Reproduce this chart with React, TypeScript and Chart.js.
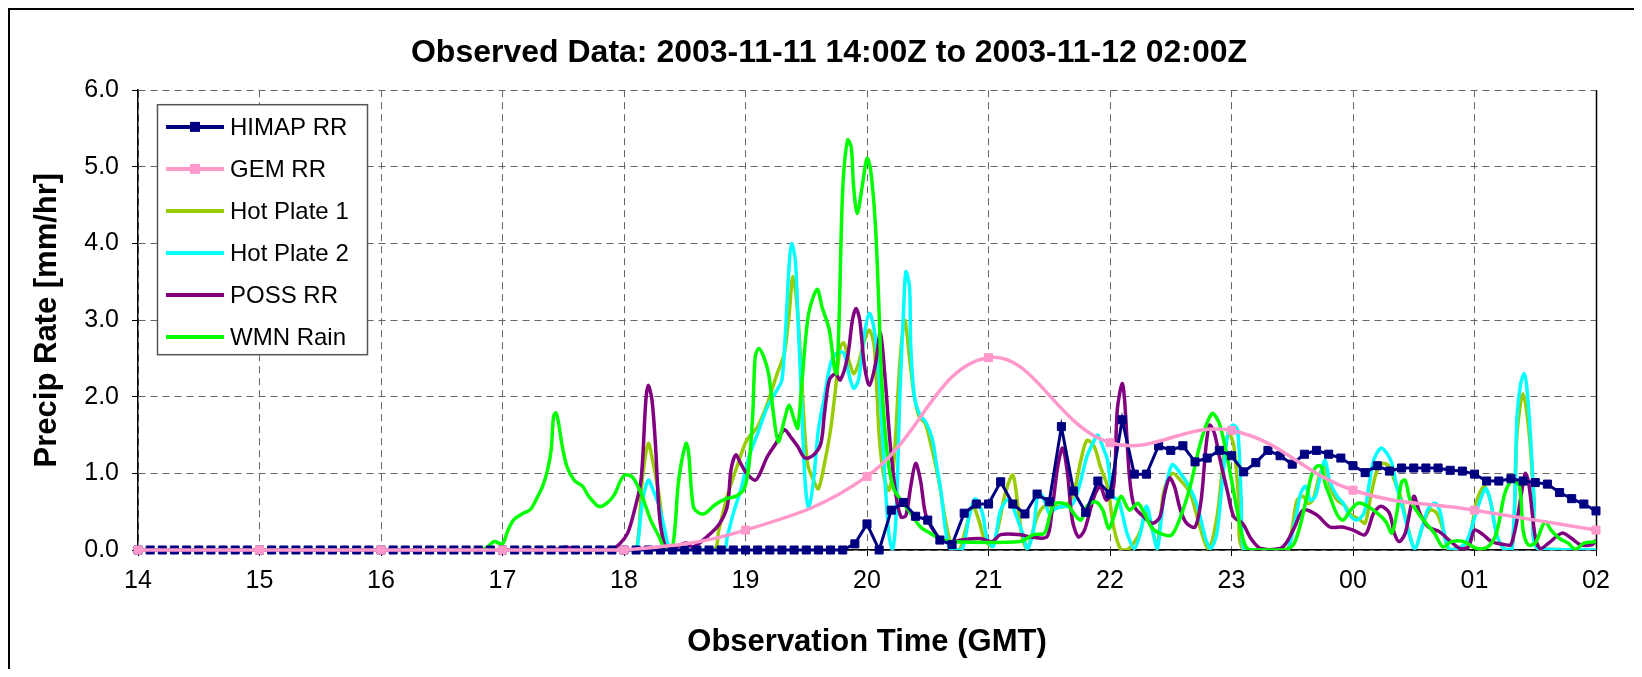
import React, { useEffect, useRef } from "react";
import { Chart, registerables } from "chart.js";

Chart.register(...registerables);

// ---------- data ----------
const chartTitle = "Observed Data: 2003-11-11 14:00Z to 2003-11-12 02:00Z";
const xTitle = "Observation Time (GMT)";
const yTitle = "Precip Rate [mm/hr]";

// hours 14..26 (00 = 24, 01 = 25, 02 = 26)
const hourLabels = ["14", "15", "16", "17", "18", "19", "20", "21", "22", "23", "00", "01", "02"];
const yTickLabels = ["0.0", "1.0", "2.0", "3.0", "4.0", "5.0", "6.0"];

// HIMAP RR: every 6 minutes from 14:00 to 02:00
const himapStartHour = 14;
const himapStepHours = 0.1;
const himapValues = [
  0, 0, 0, 0, 0, 0, 0, 0, 0, 0,
  0, 0, 0, 0, 0, 0, 0, 0, 0, 0,
  0, 0, 0, 0, 0, 0, 0, 0, 0, 0,
  0, 0, 0, 0, 0, 0, 0, 0, 0, 0,
  0, 0, 0, 0, 0, 0, 0, 0, 0, 0,
  0, 0, 0, 0, 0, 0, 0, 0, 0, 0.08,
  0.34, 0.0, 0.52, 0.62, 0.44, 0.39, 0.13, 0.07, 0.48, 0.6,
  0.6, 0.89, 0.6, 0.47, 0.73, 0.63, 1.61, 0.77, 0.49, 0.9,
  0.73, 1.7, 0.99, 0.99, 1.36, 1.3, 1.36, 1.15, 1.2, 1.3,
  1.23, 1.02, 1.14, 1.3, 1.23, 1.12, 1.25, 1.3, 1.25, 1.2,
  1.1, 1.01, 1.1, 1.03, 1.07, 1.07, 1.07, 1.07, 1.04, 1.03,
  0.99, 0.9, 0.9, 0.93, 0.9, 0.88, 0.86, 0.75, 0.67, 0.6,
  0.51,
];

// GEM RR: hourly
const gemHours = [14, 15, 16, 17, 18, 19, 20, 21, 22, 23, 24, 25, 26];
const gemValues = [0, 0, 0, 0, 0, 0.26, 0.96, 2.51, 1.4, 1.56, 0.78, 0.52, 0.26];

// Hot Plate 1
const hp1Times = [
  18.0, 18.1, 18.15, 18.2, 18.24, 18.29, 18.33, 18.35, 18.74, 18.78, 18.85, 18.93, 19.01, 19.1, 19.18,
  19.26, 19.32, 19.36, 19.39, 19.43, 19.47, 19.51, 19.56, 19.6, 19.65, 19.7, 19.74, 19.78, 19.81, 19.85,
  19.89, 19.93, 19.98, 20.02, 20.06, 20.1, 20.14, 20.18, 20.22, 20.27, 20.31, 20.35, 20.39, 20.43, 20.48,
  20.53, 20.59, 20.65, 20.7, 20.76, 20.81, 20.87, 20.92, 20.97, 21.03, 21.08, 21.14, 21.2, 21.24, 21.28,
  21.32, 21.4, 21.46, 21.54, 21.63, 21.7, 21.76, 21.81, 21.87, 21.92, 21.98, 22.03, 22.09, 22.14, 22.2,
  22.25, 22.3, 22.35, 22.39, 22.44, 22.51, 22.58, 22.66, 22.74, 22.81, 22.88, 22.94, 22.98, 23.02, 23.06,
  23.1, 23.45, 23.5, 23.54, 23.59, 23.63, 23.67, 23.73, 23.77, 23.81, 23.87, 23.94, 23.97, 24.06, 24.1,
  24.14, 24.19, 24.24, 24.3, 24.34, 24.4, 24.45, 24.51, 24.57, 24.63, 24.69, 24.75, 24.79, 24.94, 25.02,
  25.08, 25.13, 25.18, 25.24, 25.31, 25.35, 25.4, 25.45, 25.49, 25.52, 26.0,
];
const hp1Values = [
  0, 0, 0.91, 1.39, 1.13, 0.7, 0.13, 0, 0, 0.26, 0.7, 1.09, 1.43, 1.61, 1.91,
  2.3, 2.57, 3.09, 3.57, 3.09, 2.0, 1.13, 0.91, 0.8, 1.13, 1.57, 2.09, 2.65, 2.7, 2.48,
  2.3, 2.43, 2.74, 2.87, 2.65, 1.5, 0.95, 0.78, 1.13, 2.43, 3.0, 2.5, 2.0, 1.74, 1.65,
  1.35, 0.91, 0.35, 0.04, 0, 0.26, 0.57, 0.39, 0.13, 0.05, 0.3, 0.75, 0.98, 0.6, 0.15,
  0.02, 0.43, 0.57, 0.57, 0.57, 0.74, 1.17, 1.43, 1.35, 1.09, 0.83, 0.3, 0, 0, 0.1,
  0.25, 0.5, 0.25, 0.05, 0.74, 1.0, 0.91, 0.74, 0.3, 0.02, 0.43, 1.26, 1.52, 1.35, 0.65,
  0, 0, 0.3, 0.65, 0.7, 0.61, 0.65, 1.0, 1.09, 0.83, 0.65, 0.57, 0.48, 0.39, 0.35,
  0.65, 1.0, 1.13, 1.09, 0.91, 0.65, 0.3, 0.02, 0.3, 0.52, 0.48, 0.22, 0, 0.1, 0.65,
  0.83, 0.65, 0.22, 0.02, 0.02, 1.52, 2.04, 1.52, 0.65, 0.02, 0,
];

// Hot Plate 2
const hp2Times = [
  18.0, 18.08, 18.11, 18.15, 18.2, 18.24, 18.29, 18.33, 18.37, 18.42, 18.82, 18.85, 18.9, 18.96, 19.03,
  19.1, 19.18, 19.26, 19.3, 19.33, 19.36, 19.38, 19.41, 19.43, 19.46, 19.49, 19.52, 19.56, 19.6, 19.65,
  19.7, 19.75, 19.81, 19.85, 19.89, 19.93, 19.98, 20.02, 20.06, 20.1, 20.14, 20.18, 20.21, 20.24, 20.27,
  20.3, 20.32, 20.35, 20.36, 20.39, 20.43, 20.49, 20.54, 20.57, 20.61, 20.65, 20.69, 20.78, 20.84, 20.89,
  20.95, 20.99, 21.04, 21.1, 21.17, 21.22, 21.28, 21.32, 21.37, 21.41, 21.46, 21.5, 21.55, 21.62, 21.67,
  21.71, 21.76, 21.81, 21.87, 21.9, 21.94, 21.98, 22.02, 22.07, 22.1, 22.14, 22.2, 22.25, 22.3, 22.35,
  22.39, 22.44, 22.51, 22.58, 22.65, 22.72, 22.79, 22.83, 22.88, 22.92, 22.97, 23.01, 23.05, 23.08, 23.1,
  23.2, 23.45, 23.47, 23.53, 23.57, 23.61, 23.65, 23.69, 23.73, 23.77, 23.81, 23.87, 23.92, 23.97, 24.03,
  24.09, 24.13, 24.17, 24.23, 24.28, 24.32, 24.36, 24.42, 24.46, 24.51, 24.57, 24.62, 24.68, 24.72, 24.75,
  24.79, 24.87, 24.94, 25.02, 25.09, 25.13, 25.18, 25.24, 25.31, 25.35, 25.38, 25.41, 25.43, 25.46, 25.49,
  25.52, 26.0,
];
const hp2Values = [
  0, 0, 0.05, 0.61, 0.91, 0.78, 0.57, 0.3, 0.04, 0, 0, 0.17, 0.48, 0.78, 1.22,
  1.52, 1.87, 2.09, 2.22, 2.87, 3.74, 4.0, 3.78, 3.09, 2.0, 0.91, 0.54, 0.91, 1.57, 2.0,
  2.43, 2.57, 2.57, 2.3, 2.11, 2.22, 2.83, 3.09, 2.87, 2.22, 1.13, 0.2, 0, 0.48, 2.0,
  3.09, 3.63, 3.43, 2.65, 2.0, 1.78, 1.65, 1.43, 1.13, 0.75, 0.22, 0, 0, 0.43, 0.67,
  0.48, 0.13, 0.05, 0.52, 0.67, 0.48, 0.22, 0.02, 0.26, 0.76, 0.65, 0.48, 0.54, 0.57, 0.57,
  0.65, 0.91, 1.22, 1.43, 1.5, 1.35, 1.17, 0.7, 0.65, 0.48, 0.22, 0.02, 0.22, 0.57, 0.26,
  0.02, 0.65, 1.11, 1.0, 0.83, 0.57, 0.13, 0.02, 0.22, 0.83, 1.52, 1.63, 1.57, 0.65, 0.02,
  0, 0, 0.02, 0.43, 0.74, 0.83, 0.65, 0.7, 0.96, 1.17, 0.89, 0.7, 0.61, 0.46, 0.39,
  0.48, 0.83, 1.17, 1.33, 1.26, 1.13, 0.83, 0.48, 0.22, 0.02, 0.3, 0.54, 0.61, 0.48, 0.22,
  0.02, 0.02, 0.13, 0.52, 0.8, 0.65, 0.22, 0.02, 0.02, 1.74, 2.17, 2.3, 2.13, 1.52, 0.65,
  0.02, 0,
];

// POSS RR
const possTimes = [
  17.0, 17.45, 17.52, 17.6, 17.9, 17.97, 18.03, 18.08, 18.14, 18.18, 18.2, 18.23, 18.26, 18.29, 18.33,
  18.38, 18.51, 18.57, 18.68, 18.78, 18.85, 18.88, 18.92, 18.96, 19.01, 19.08, 19.12, 19.18, 19.25, 19.32,
  19.37, 19.43, 19.49, 19.56, 19.62, 19.65, 19.69, 19.74, 19.78, 19.84, 19.88, 19.91, 19.94, 19.98, 20.02,
  20.07, 20.11, 20.15, 20.19, 20.24, 20.28, 20.32, 20.36, 20.4, 20.44, 20.48, 20.53, 20.6, 20.68, 20.77,
  20.93, 21.03, 21.1, 21.26, 21.35, 21.48, 21.52, 21.57, 21.61, 21.65, 21.69, 21.74, 21.79, 21.87, 21.92,
  21.97, 22.03, 22.06, 22.1, 22.12, 22.16, 22.2, 22.28, 22.35, 22.41, 22.45, 22.49, 22.53, 22.58, 22.63,
  22.7, 22.75, 22.79, 22.82, 22.86, 22.9, 22.97, 23.02, 23.09, 23.16, 23.24, 23.4, 23.45, 23.52, 23.59,
  23.7, 23.81, 23.91, 24.0, 24.1, 24.17, 24.23, 24.3, 24.34, 24.38, 24.43, 24.5, 24.55, 24.62, 24.71,
  24.79, 24.88, 24.95, 25.0, 25.07, 25.14, 25.25, 25.3, 25.35, 25.4, 25.42, 25.45, 25.5, 25.54, 25.61,
  25.72, 25.8, 25.87, 25.97, 26.0,
];
const possValues = [
  0, 0.01, 0.04, 0.01, 0.01, 0.09, 0.22, 0.48, 0.91, 1.96, 2.15, 1.96, 1.35, 0.48, 0.09,
  0, 0.09, 0.04, 0.17, 0.33, 0.57, 1.04, 1.24, 1.13, 1.0, 0.91, 1.0, 1.22, 1.39, 1.57,
  1.48, 1.35, 1.2, 1.24, 1.39, 1.78, 2.22, 2.3, 2.22, 2.52, 3.0, 3.15, 3.0, 2.39, 2.15,
  2.43, 2.83, 2.22, 1.4, 0.7, 0.43, 0.45, 0.83, 1.13, 0.91, 0.48, 0.3, 0.15, 0.1, 0.13,
  0.15, 0.11, 0.2, 0.2, 0.17, 0.17, 0.48, 1.09, 1.33, 1.0, 0.39, 0.17, 0.26, 0.7, 0.83,
  0.65, 0.83, 1.83, 2.17, 1.96, 0.96, 0.57, 0.43, 0.35, 0.43, 0.74, 0.94, 0.83, 0.52, 0.35,
  0.3, 0.65, 1.35, 1.63, 1.52, 1.22, 0.74, 0.43, 0.35, 0.15, 0.02, 0.02, 0.09, 0.3, 0.52,
  0.46, 0.3, 0.3, 0.26, 0.2, 0.48, 0.57, 0.48, 0.22, 0.11, 0.22, 0.7, 0.48, 0.3, 0.24,
  0.13, 0.02, 0.04, 0.26, 0.2, 0.11, 0.07, 0.07, 0.39, 0.87, 1.0, 0.83, 0.17, 0.02, 0.09,
  0.22, 0.15, 0.07, 0.07, 0.13,
];

// WMN Rain
const wmnTimes = [
  14.0, 16.8, 16.87, 16.93, 17.0, 17.04, 17.09, 17.16, 17.23, 17.29, 17.33, 17.37, 17.4, 17.42, 17.44,
  17.46, 17.49, 17.53, 17.59, 17.66, 17.71, 17.79, 17.85, 17.92, 17.97, 18.01, 18.07, 18.14, 18.22, 18.29,
  18.34, 18.4, 18.45, 18.51, 18.53, 18.57, 18.62, 18.67, 18.75, 18.84, 18.92, 18.99, 19.03, 19.06, 19.08,
  19.11, 19.15, 19.19, 19.23, 19.27, 19.32, 19.36, 19.4, 19.43, 19.47, 19.52, 19.59, 19.63, 19.69, 19.73,
  19.75, 19.77, 19.8, 19.84, 19.87, 19.89, 19.92, 19.96, 20.0, 20.03, 20.07, 20.1, 20.12, 20.17, 20.22,
  20.28, 20.36, 20.44, 20.52, 20.6, 20.68, 21.26, 21.37, 21.46, 21.51, 21.55, 21.65, 21.7, 21.76, 21.81,
  21.88, 21.94, 21.99, 22.03, 22.09, 22.16, 22.23, 22.28, 22.35, 22.44, 22.51, 22.58, 22.66, 22.75, 22.84,
  22.9, 22.97, 23.04, 23.09, 23.13, 23.2, 23.43, 23.51, 23.57, 23.62, 23.66, 23.7, 23.74, 23.77, 23.81,
  23.87, 23.92, 23.98, 24.04, 24.1, 24.2, 24.27, 24.32, 24.36, 24.4, 24.43, 24.47, 24.52, 24.59, 24.67,
  24.74, 24.81, 24.91, 25.02, 25.11, 25.18, 25.25, 25.31, 25.37, 25.4, 25.44, 25.5, 25.58, 25.63, 25.7,
  25.77, 25.83, 25.9, 26.0,
];
const wmnValues = [
  0, 0, 0.03, 0.11, 0.08, 0.24, 0.39, 0.47, 0.53, 0.7, 0.83, 1.04, 1.3, 1.74, 1.79,
  1.67, 1.37, 1.09, 0.91, 0.83, 0.7, 0.57, 0.6, 0.72, 0.9, 0.98, 0.95, 0.74, 0.39, 0.17,
  0, 0.04, 0.91, 1.39, 1.3, 0.57, 0.48, 0.48, 0.59, 0.67, 0.7, 0.8, 1.13, 1.78, 2.52,
  2.63, 2.52, 2.3, 1.78, 1.41, 1.7, 1.89, 1.7, 1.59, 2.3, 3.09, 3.4, 3.17, 2.87, 2.39,
  2.3, 3.0, 4.7, 5.35, 5.26, 4.74, 4.39, 4.74, 5.11, 4.96, 4.22, 3.09, 2.22, 1.2, 0.8,
  0.65, 0.48, 0.3, 0.22, 0.15, 0.11, 0.11, 0.2, 0.22, 0.48, 0.61, 0.59, 0.48, 0.39, 0.57,
  0.63, 0.52, 0.28, 0.43, 0.7, 0.52, 0.61, 0.48, 0.28, 0.2, 0.2, 0.43, 0.83, 1.43, 1.78,
  1.65, 1.17, 0.57, 0.17, 0.02, 0, 0, 0.07, 0.35, 0.7, 0.98, 1.09, 1.09, 0.87, 0.7,
  0.46, 0.39, 0.52, 0.61, 0.59, 0.48, 0.37, 0.22, 0.48, 0.89, 0.91, 0.65, 0.52, 0.37, 0.22,
  0.04, 0.11, 0.11, 0.02, 0.04, 0.22, 0.74, 0.91, 0.83, 0.26, 0.07, 0.09, 0.37, 0.26, 0.15,
  0.09, 0.01, 0.09, 0.11,
];

// ---------- helpers ----------
const FONT = '"Liberation Sans", Arial, Helvetica, sans-serif';
const pts = (xs: number[], ys: number[]) => xs.map((x, i) => ({ x, y: ys[i] }));

const framePlugin = {
  id: "frame",
  beforeDraw(chart: any) {
    const { ctx, width, height } = chart;
    ctx.save();
    ctx.fillStyle = "#fff";
    ctx.fillRect(0, 0, width, height);
    ctx.strokeStyle = "#000";
    ctx.lineWidth = 2;
    ctx.beginPath();
    ctx.moveTo(1, height);
    ctx.lineTo(1, 1);
    ctx.lineTo(width, 1);
    ctx.stroke();
    ctx.restore();
  },
  beforeDatasetsDraw(chart: any) {
    const { ctx, chartArea } = chart;
    ctx.save();
    ctx.strokeStyle = "#000";
    ctx.lineWidth = 1.5;
    ctx.beginPath();
    ctx.moveTo(Math.round(chartArea.right) + 0.5, chartArea.top);
    ctx.lineTo(Math.round(chartArea.right) + 0.5, chartArea.bottom);
    ctx.stroke();
    ctx.restore();
  },
};

const boxLegendPlugin = {
  id: "boxLegend",
  afterDraw(chart: any) {
    const { ctx, chartArea } = chart;
    const left = chartArea.left + 19;
    const top = chartArea.top + 14;
    const w = 210;
    const h = 250;
    ctx.save();
    ctx.fillStyle = "#fff";
    ctx.fillRect(left, top, w, h);
    ctx.strokeStyle = "#555";
    ctx.lineWidth = 1.5;
    ctx.strokeRect(left + 0.5, top + 0.5, w, h);
    chart.data.datasets.forEach((ds: any, i: number) => {
      const y = top + 22.7 + i * 42;
      ctx.strokeStyle = ds.borderColor;
      ctx.lineWidth = 4;
      ctx.beginPath();
      ctx.moveTo(left + 9, y);
      ctx.lineTo(left + 67, y);
      ctx.stroke();
      if (ds.pointRadius > 0) {
        ctx.fillStyle = ds.borderColor;
        ctx.fillRect(left + 38 - 5, y - 5, 10, 10);
      }
      ctx.fillStyle = "#000";
      ctx.font = `24px ${FONT}`;
      ctx.textBaseline = "middle";
      ctx.textAlign = "left";
      ctx.fillText(ds.label, left + 73, y + 1);
    });
    ctx.restore();
  },
};

export default function App() {
  const ref = useRef<HTMLCanvasElement | null>(null);

  useEffect(() => {
    document.documentElement.style.overflow = "hidden";
    document.body.style.overflow = "hidden";
    if (!ref.current) return;
    const smooth = { pointRadius: 0, borderWidth: 3.5, tension: 0.3, fill: false };
    const gridOpts: any = {
      color: "#666",
      lineWidth: 1,
      tickLength: 6,
      tickColor: "#000",
      tickBorderDash: [],
    };
    const borderOpts: any = { display: true, color: "#000", width: 1.5, dash: [7, 5] };
    const chart = new Chart(ref.current, {
      type: "line",
      data: {
        datasets: [
          {
            label: "HIMAP RR",
            data: himapValues.map((v, i) => ({ x: himapStartHour + i * himapStepHours, y: v })),
            borderColor: "#000080",
            backgroundColor: "#000080",
            borderWidth: 3,
            pointStyle: "rect",
            pointRadius: 5.7,
            pointBorderWidth: 1,
            tension: 0,
            order: 1,
            clip: false,
          } as any,
          {
            label: "GEM RR",
            data: pts(gemHours, gemValues),
            borderColor: "#FF99CC",
            backgroundColor: "#FF99CC",
            borderWidth: 3.5,
            pointStyle: "rect",
            pointRadius: 5.7,
            pointBorderWidth: 1,
            tension: 0.4,
            order: 0,
            clip: false,
          },
          { label: "Hot Plate 1", data: pts(hp1Times, hp1Values), borderColor: "#99CC00", order: 5, ...smooth },
          { label: "Hot Plate 2", data: pts(hp2Times, hp2Values), borderColor: "#00FFFF", order: 4, ...smooth },
          { label: "POSS RR", data: pts(possTimes, possValues), borderColor: "#800080", order: 3, ...smooth },
          { label: "WMN Rain", data: pts(wmnTimes, wmnValues), borderColor: "#00FF00", order: 2, ...smooth },
        ],
      },
      options: {
        responsive: false,
        animation: false,
        layout: { padding: 0 },
        plugins: {
          legend: { display: false },
          tooltip: { enabled: false },
          title: {
            display: true,
            text: chartTitle,
            color: "#000",
            font: { family: FONT, size: 32, weight: "bold" },
            padding: { top: 26, bottom: 17.8 },
          },
        },
        scales: {
          x: {
            type: "linear",
            min: 14,
            max: 26,
            afterFit: (s: any) => {
              s.height = 127;
            },
            ticks: {
              stepSize: 1,
              autoSkip: false,
              maxRotation: 0,
              padding: 10,
              color: "#000",
              font: { family: FONT, size: 25 },
              callback: (v: any) => hourLabels[Math.round(Number(v)) - 14],
            },
            grid: gridOpts,
            border: borderOpts,
            title: {
              display: true,
              text: xTitle,
              color: "#000",
              font: { family: FONT, size: 31, weight: "bold" },
              padding: { top: 0, bottom: 15.5 },
            },
          },
          y: {
            min: 0,
            max: 6,
            afterFit: (s: any) => {
              s.width = 130;
            },
            ticks: {
              stepSize: 1,
              padding: 13,
              color: "#000",
              font: { family: FONT, size: 25 },
              callback: (v: any) => yTickLabels[Math.round(Number(v))],
            },
            grid: gridOpts,
            border: borderOpts,
            title: {
              display: true,
              text: yTitle,
              color: "#000",
              font: { family: FONT, size: 31, weight: "bold" },
              padding: { top: 20.4, bottom: 0 },
            },
          },
          yRightSpace: {
            position: "right",
            min: 0,
            max: 6,
            afterFit: (s: any) => {
              s.width = 54;
            },
            ticks: { display: false },
            grid: { display: false, drawTicks: false },
            border: { display: false },
          },
        },
      },
      plugins: [framePlugin, boxLegendPlugin],
    } as any);
    return () => chart.destroy();
  }, []);

  return (
    <div style={{ width: 1634, height: 661, overflow: "hidden" }}>
      <div style={{ width: 1642, height: 669 }}>
        <canvas ref={ref} width={1642} height={669} style={{ display: "block" }} />
      </div>
    </div>
  );
}
